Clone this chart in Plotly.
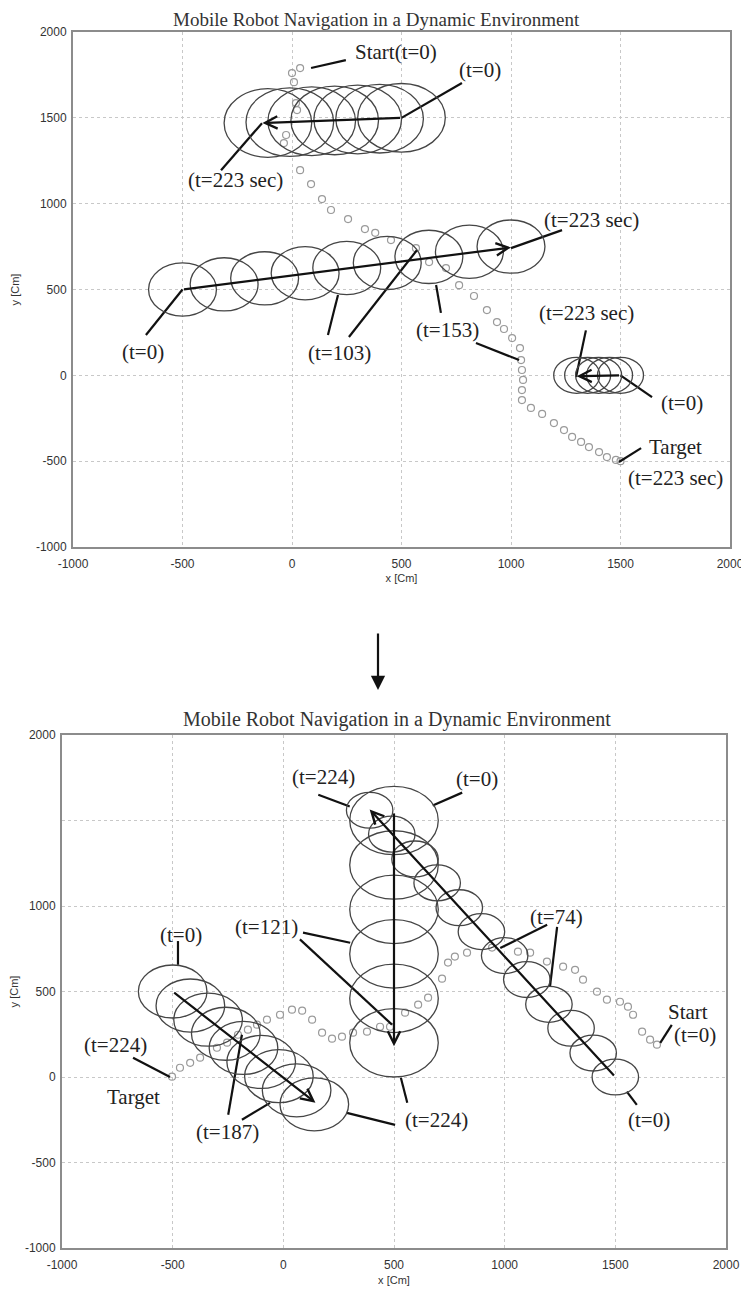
import plotly.graph_objects as go

# ---------------- data: top panel ----------------
top_path_x = [37, 0, 9, 18, 23, -27, -37, 37, 87, 137, 178, 256, 333, 380, 452, 566, 626, 703, 763, 831,
              890, 936, 968, 1005, 1041, 1046, 1050, 1055, 1050, 1050, 1091, 1142, 1196, 1242, 1279, 1320,
              1356, 1402, 1438, 1479, 1500]
top_path_y = [1790, 1761, 1708, 1586, 1545, 1400, 1353, 1195, 1114, 1027, 963, 910, 852, 830, 788, 741, 660,
              625, 525, 462, 380, 310, 270, 217, 159, 89, 31, -27, -86, -144, -190, -225, -278, -319, -359,
              -388, -418, -447, -476, -493, -500]

top_obs1_x = [500, 400, 300, 195, 90, -10, -110]
top_obs1_y = [1500, 1495, 1490, 1485, 1480, 1475, 1470]
top_obs1_r = 200
top_obs2_x = [-500, -310, -125, 60, 250, 435, 625, 810, 1000]
top_obs2_y = [500, 530, 565, 595, 625, 655, 690, 720, 750]
top_obs2_r = 155
top_obs3_x = [1300, 1350, 1400, 1450, 1500]
top_obs3_y = [0, 0, 0, 0, 0]
top_obs3_r = 105

# trajectory arrows (start x, start y, end x, end y)
top_traj = [(500, 1500, -135, 1470), (-500, 500, 1000, 745), (1500, 0, 1300, -5)]

top_leaders = [((87, 1790), (246, 1836)), ((776, 1703), (500, 1500)), ((-324, 1195), (-137, 1469)),
               ((1233, 846), (1000, 741)), ((-667, 235), (-500, 500)), ((164, 235), (210, 468)),
               ((260, 223), (571, 730)), ((680, 364), (658, 526)), ((840, 188), (1037, 89)),
               ((1342, 262), (1297, -10)), ((1644, -127), (1500, 0)), ((1493, -505), (1594, -424))]

top_labels = ["Start(t=0)", "(t=0)", "(t=223 sec)", "(t=223 sec)", "(t=0)", "(t=103)", "(t=153)",
              "(t=223 sec)", "(t=0)", "Target", "(t=223 sec)"]
top_label_x = [475, 858, -256, 1366, -680, 215, 712, 1347, 1781, 1753, 1749]
top_label_y = [1883, 1778, 1137, 904, 137, 131, 264, 362, -161, -418, -598]

# ---------------- data: bottom panel ----------------
bot_path_x = [1688, 1657, 1621, 1580, 1557, 1521, 1462, 1417, 1354, 1318, 1264, 1191, 1115, 1060, 943, 830,
              775, 744, 717, 654, 609, 550, 482, 437, 378, 315, 265, 220, 175, 130, 85, 39, -15, -74, -119,
              -160, -205, -254, -300, -376, -421, -467, -503]
bot_path_y = [189, 218, 265, 364, 411, 440, 452, 499, 569, 627, 645, 675, 727, 733, 757, 727, 704, 669, 575,
              464, 423, 376, 294, 294, 265, 259, 236, 224, 259, 335, 388, 394, 364, 335, 306, 277, 247, 201,
              171, 113, 83, 54, 2]

bot_obsA_x = [1500, 1400, 1300, 1200, 1100, 1000, 895, 795, 695, 595, 490, 390]
bot_obsA_y = [0, 140, 285, 425, 570, 710, 850, 990, 1135, 1275, 1420, 1560]
bot_obsA_r = 105
bot_obsB_x = [500, 500, 500, 500, 500, 500]
bot_obsB_y = [1500, 1240, 980, 720, 460, 200]
bot_obsB_r = 200
bot_obsC_x = [-500, -420, -340, -260, -180, -100, -20, 60, 140]
bot_obsC_y = [500, 418, 335, 253, 170, 88, 5, -78, -160]
bot_obsC_r = 155

bot_traj = [(1500, 0, 390, 1565), (500, 1550, 500, 180), (-500, 500, 145, -150)]

bot_leaders = [((158, 1651), (300, 1582)), ((808, 1663), (675, 1588)), ((89, 844), (302, 785)),
               ((75, 805), (491, 306)), ((1192, 890), (980, 754)), ((1237, 878), (1205, 530)),
               ((-476, 795), (-476, 656)), ((-679, 113), (-512, 0)), ((-249, -221), (-187, 247)),
               ((-187, -250), (-60, -151)), ((560, -151), (531, -4)), ((505, -280), (287, -210)),
               ((1703, 200), (1755, 305)), ((1597, -163), (1552, -86))]

bot_labels = ["(t=224)", "(t=0)", "(t=121)", "(t=74)", "(t=0)", "(t=224)", "Target", "(t=187)",
              "(t=224)", "Start", "(t=0)", "(t=0)"]
bot_label_x = [180, 876, -75, 1233, -462, -760, -678, -254, 692, 1830, 1861, 1652]
bot_label_y = [1757, 1740, 879, 938, 832, 189, -116, -320, -250, 382, 247, -250]

tick_vals = [-1000, -500, 0, 500, 1000, 1500, 2000]
x_tick_text = ["-1000", "-500", "0", "500", "1000", "1500", "2000"]
top_y_tick_text = ["-1000", "-500", "0", "500", "1000", "1500", "2000"]
bot_y_tick_text = ["-1000", "-500", "0", "500", "1000", "", "2000"]

TITLE = "Mobile Robot Navigation in a Dynamic Environment"

# ---------------- figure ----------------
OFF = 8                      # page body margin
W, H = 749 - OFF, 1293 - OFF


def px(x):
    return (x - OFF) / W


def py(y):
    return 1 - (y - OFF) / H


fig = go.Figure()
shapes = []
annotations = []
SERIF = "Liberation Serif, Times New Roman, serif"
LABEL_SIZE = 21


def add_panel(xr, yr, path_x, path_y, obstacles, trajs, leaders, labels, lx, ly):
    fig.add_trace(go.Scatter(x=path_x, y=path_y, mode="markers", xaxis=xr, yaxis=yr,
                             marker=dict(symbol="circle-open", size=7, color="#9a9a9a",
                                         line=dict(width=1.2, color="#9a9a9a")),
                             showlegend=False, hoverinfo="skip"))
    for cx_list, cy_list, r in obstacles:
        for cx, cy in zip(cx_list, cy_list):
            shapes.append(dict(type="circle", xref=xr, yref=yr, x0=cx - r, x1=cx + r,
                               y0=cy - r, y1=cy + r, line=dict(color="#454545", width=1.3)))
    lxs, lys = [], []
    for (a, b) in leaders:
        lxs += [a[0], b[0], None]
        lys += [a[1], b[1], None]
    fig.add_trace(go.Scatter(x=lxs, y=lys, mode="lines", xaxis=xr, yaxis=yr,
                             line=dict(color="#111", width=2.2), showlegend=False, hoverinfo="skip"))
    for (x0, y0, x1, y1) in trajs:
        annotations.append(dict(x=x1, y=y1, ax=x0, ay=y0, xref=xr, yref=yr, axref=xr, ayref=yr,
                                showarrow=True, arrowhead=5, arrowsize=1.1, arrowwidth=2.2,
                                arrowcolor="#111", text=""))
    for t, x, y in zip(labels, lx, ly):
        annotations.append(dict(x=x, y=y, xref=xr, yref=yr, text=t, showarrow=False,
                                font=dict(family=SERIF, size=LABEL_SIZE, color="#222")))


add_panel("x", "y", top_path_x, top_path_y,
          [(top_obs1_x, top_obs1_y, top_obs1_r), (top_obs2_x, top_obs2_y, top_obs2_r),
           (top_obs3_x, top_obs3_y, top_obs3_r)],
          top_traj, top_leaders, top_labels, top_label_x, top_label_y)
add_panel("x2", "y2", bot_path_x, bot_path_y,
          [(bot_obsA_x, bot_obsA_y, bot_obsA_r), (bot_obsB_x, bot_obsB_y, bot_obsB_r),
           (bot_obsC_x, bot_obsC_y, bot_obsC_r)],
          bot_traj, bot_leaders, bot_labels, bot_label_x, bot_label_y)

# titles
annotations.append(dict(x=px(376), y=py(20), xref="paper", yref="paper", text=TITLE, showarrow=False,
                        xanchor="center", yanchor="middle", borderpad=0,
                        font=dict(family=SERIF, size=19, color="#333")))
annotations.append(dict(x=px(397), y=py(719), xref="paper", yref="paper", text=TITLE, showarrow=False,
                        xanchor="center", yanchor="middle",
                        font=dict(family=SERIF, size=20, color="#333")))
# down arrow between panels
annotations.append(dict(x=px(378), y=py(690), xref="paper", yref="paper", ax=0, ay=-58,
                        showarrow=True, arrowhead=2, arrowsize=1.3, arrowwidth=2.2, arrowcolor="#111",
                        text=""))

SANS = "Liberation Sans, Arial, sans-serif"
axis_common = dict(range=[-1000, 2000], tickvals=tick_vals, showgrid=True, gridcolor="#c8c8c8",
                   griddash="dot", gridwidth=1, showline=True, linecolor="#8c8c8c", linewidth=2,
                   mirror=True, zeroline=False, ticks="", automargin=False,
                   tickfont=dict(family=SANS, size=12, color="#333"),
                   title_font=dict(family=SANS, size=11, color="#333"))

fig.update_layout(
    width=W, height=H, margin=dict(l=0, r=0, t=0, b=0, autoexpand=False),
    paper_bgcolor="white", plot_bgcolor="white", showlegend=False,
    xaxis=dict(axis_common, domain=[px(73), px(730)], anchor="y", ticktext=x_tick_text,
               title=dict(text="x [Cm]", standoff=4), ticklabelstandoff=5),
    yaxis=dict(axis_common, domain=[py(547), py(32)], anchor="x", ticktext=top_y_tick_text,
               title=dict(text="y [Cm]", standoff=14), ticklabelstandoff=2),
    xaxis2=dict(axis_common, domain=[px(62), px(726)], anchor="y2", ticktext=x_tick_text,
                title=dict(text="x [Cm]", standoff=5), ticklabelstandoff=5),
    yaxis2=dict(axis_common, domain=[py(1248), py(735)], anchor="x2", ticktext=bot_y_tick_text,
                title=dict(text="y [Cm]", standoff=12), ticklabelstandoff=2),
    shapes=shapes, annotations=annotations,
)

fig.write_html("out.html")
